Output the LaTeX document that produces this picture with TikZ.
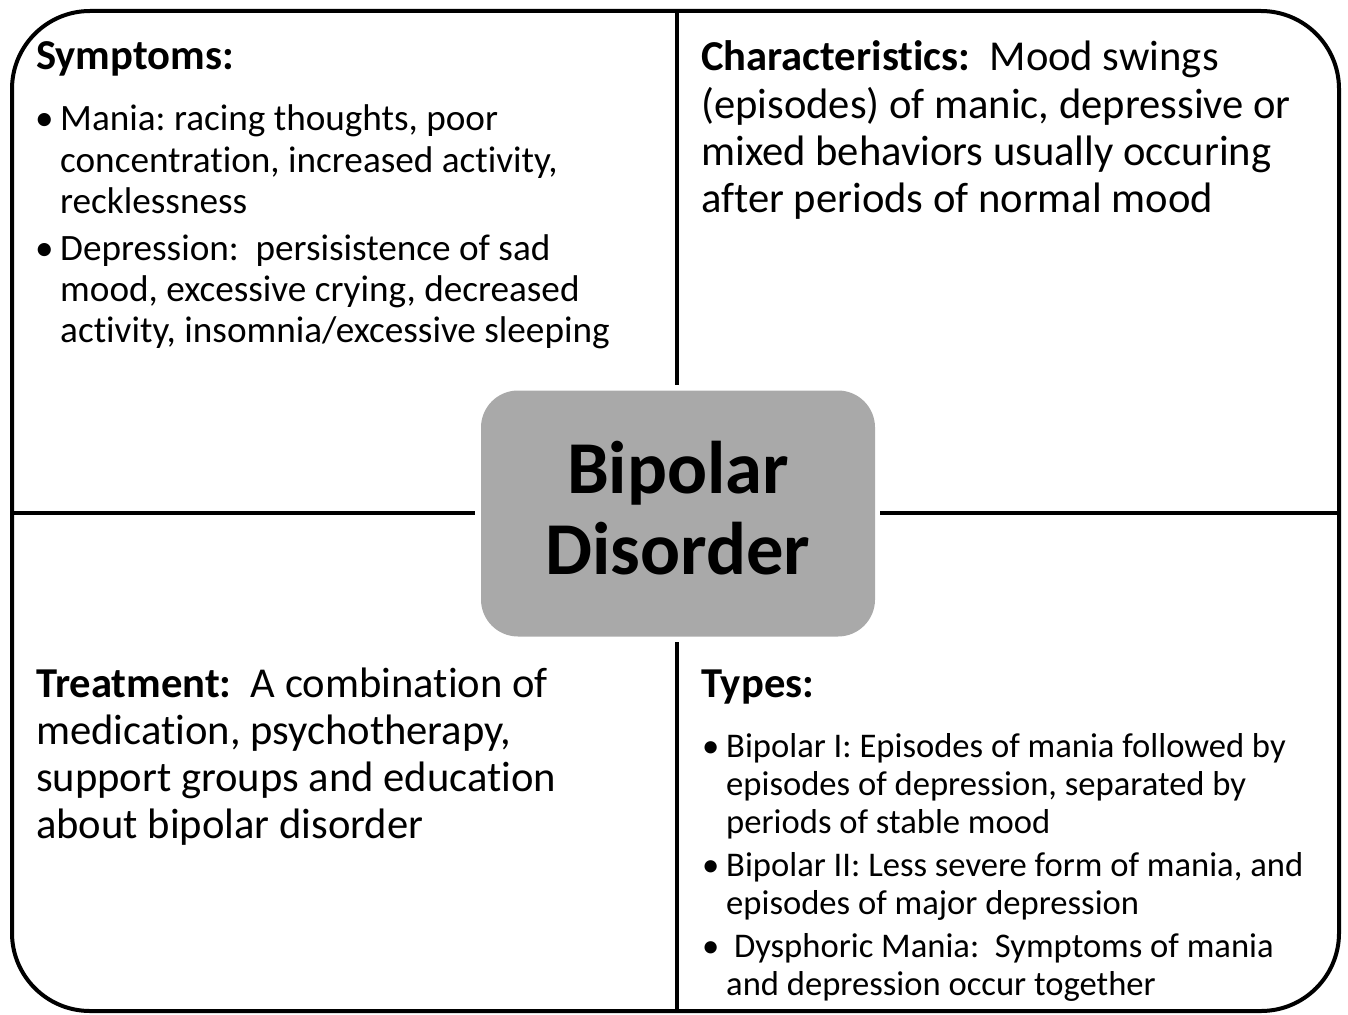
\documentclass[tikz,border=0pt]{standalone}
\usepackage{fontspec}
\setmainfont{Carlito}[Ligatures=CommonOff]
\definecolor{hubgray}{RGB}{169,169,169}
\frenchspacing
\begin{document}
\begin{tikzpicture}[x=1pt,y=-1pt,
  frame/.style={line width=4pt, rounded corners=78pt},
  divider/.style={line width=4pt},
  hub/.style={fill=hubgray, draw=none, rounded corners=37pt, minimum width=394pt, minimum height=246pt, inner sep=0pt},
  symtxt/.style={inner sep=0pt, anchor=base west, font=\fontsize{37.2pt}{41pt}\selectfont},
  bigtxt/.style={inner sep=0pt, anchor=base west, font=\fontsize{42.6pt}{47pt}\selectfont},
  typtxt/.style={inner sep=0pt, anchor=base west, font=\fontsize{34.6pt}{38pt}\selectfont},
  hubtxt/.style={inner sep=0pt, anchor=base, font=\fontsize{74.6pt}{81pt}\selectfont\bfseries}
]
\useasboundingbox (0,0) rectangle (1348,1014);
\draw[frame] (12,11) rectangle (1339,1011);

% dividers
\coordinate (vt1) at (677,11);  \coordinate (vt2) at (677,385);
\coordinate (vb1) at (677,642); \coordinate (vb2) at (677,1011);
\coordinate (hl1) at (12,513);  \coordinate (hl2) at (475,513);
\coordinate (hr1) at (880,513); \coordinate (hr2) at (1339,513);
\draw[divider] (vt1) -- (vt2);
\draw[divider] (vb1) -- (vb2);
\draw[divider] (hl1) -- (hl2);
\draw[divider] (hr1) -- (hr2);

% hub
\node[hub] (hub) at (678,513.5) {};
\node[hubtxt] (hub1) at (678,493) {Bipolar};
\node[hubtxt] (hub2) at (678,574) {Disorder};

% Symptoms
\node[bigtxt] (symt) at (36,70) {\textbf{Symptoms:}};
\node[symtxt] (symb1) at (35,131) {•};
\node[symtxt] (sym1) at (60,131) {Mania: racing thoughts, poor};
\node[symtxt] (sym2) at (60,172) {concentration, increased activity,};
\node[symtxt] (sym3) at (60,213) {recklessness};
\node[symtxt] (symb2) at (35,260) {•};
\node[symtxt] (sym4) at (60,260) {Depression:\ \ persisistence of sad};
\node[symtxt] (sym5) at (60,301) {mood, excessive crying, decreased};
\node[symtxt] (sym6) at (60,342) {activity, insomnia/excessive sleeping};

% Characteristics
\node[bigtxt] (cha1) at (701,71) {\textbf{Characteristics:}\ \ Mood swings};
\node[bigtxt] (cha2) at (701,118) {(episodes) of manic, depressive or};
\node[bigtxt] (cha3) at (701,165) {mixed behaviors usually occuring};
\node[bigtxt] (cha4) at (701,212) {after periods of normal mood};

% Treatment
\node[bigtxt] (tre1) at (36,697) {\textbf{Treatment:}\ \ A combination of};
\node[bigtxt] (tre2) at (36,744) {medication, psychotherapy,};
\node[bigtxt] (tre3) at (36,791) {support groups and education};
\node[bigtxt] (tre4) at (36,838) {about bipolar disorder};

% Types
\node[bigtxt] (typt) at (701,697) {\textbf{Types:}};
\node[typtxt] (typb1) at (702,757) {•};
\node[typtxt] (typ1) at (726,757) {Bipolar I: Episodes of mania followed by};
\node[typtxt] (typ2) at (726,795) {episodes of depression, separated by};
\node[typtxt] (typ3) at (726,833) {periods of stable mood};
\node[typtxt] (typb2) at (702,876) {•};
\node[typtxt] (typ4) at (726,876) {Bipolar II: Less severe form of mania, and};
\node[typtxt] (typ5) at (726,914) {episodes of major depression};
\node[typtxt] (typb3) at (702,957) {•};
\node[typtxt] (typ6) at (726,957) {\ Dysphoric Mania:\ \ Symptoms of mania};
\node[typtxt] (typ7) at (726,995) {and depression occur together};
\end{tikzpicture}
\end{document}
